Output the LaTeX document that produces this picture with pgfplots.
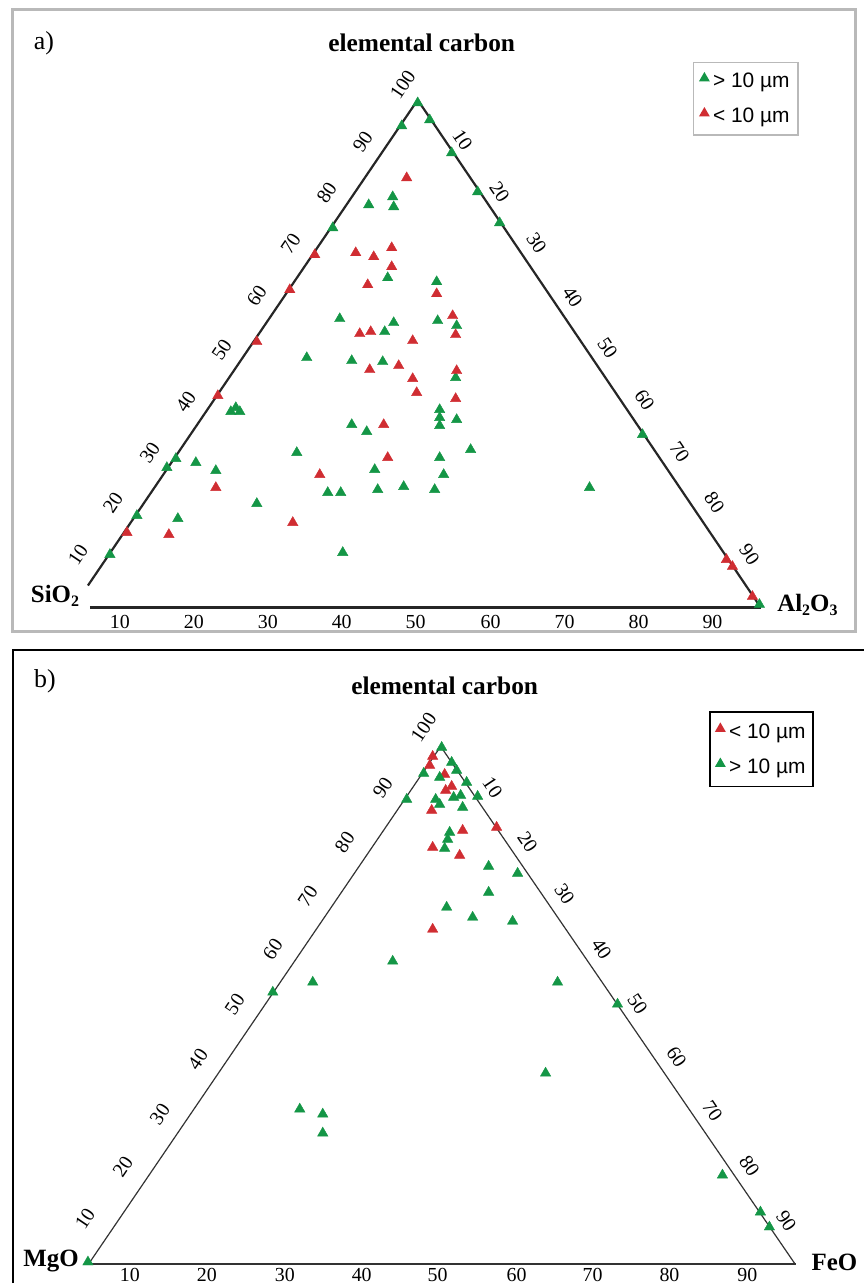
\documentclass[border=0pt]{standalone}
\usepackage{pgfplots}
\pgfplotsset{compat=1.18}
\usepackage{fontspec}
\setmainfont{Liberation Serif}
\newfontfamily\arial{Liberation Sans}
\definecolor{mkgreen}{RGB}{20,150,70}
\definecolor{mkred}{RGB}{208,45,50}
\definecolor{framegray}{RGB}{185,185,185}
\newcommand\sub[1]{\raisebox{-0.35ex}{\fontsize{16}{16}\selectfont #1}}
\pgfplotsset{
  panel/.style={scale only axis, width=865bp, xmin=0, xmax=865, y dir=reverse, hide axis, clip=false,
    legend cell align=left,
    legend image code/.code={\draw[##1, mark size=4.8bp] plot coordinates {(0bp,3bp)};},
  },
  gm/.style={only marks, mark=triangle*, mark size=6bp, color=mkgreen},
  rm/.style={only marks, mark=triangle*, mark size=6bp, color=mkred},
}
\tikzset{
  tk/.style={font=\fontsize{20}{20}\selectfont, inner sep=0pt},
  ttl/.style={font=\fontsize{25.5}{26}\selectfont\bfseries, inner sep=0pt},
  lab/.style={font=\fontsize{25}{26}\selectfont\bfseries, inner sep=0pt},
}
\begin{document}
\begin{tikzpicture}
% ---------------- panel a ----------------
\begin{axis}[panel, height=640bp, ymin=0, ymax=640, at={(0,644bp)}, anchor=south west,
  legend style={at={(0.8012,0.9031)}, anchor=north west, draw=framegray, line width=1.5bp,
    font=\arial\fontsize{21}{23}\selectfont, inner xsep=7bp, inner ysep=9bp, row sep=16bp,
    column sep=3bp, nodes={inner sep=1.5bp}}]
\path (axis cs:0,0) rectangle (axis cs:865,640);
\draw[framegray, line width=3bp] (axis cs:13,10) rectangle (axis cs:856,632);
\addplot[black!85, line width=2.2bp, forget plot] coordinates {(88,586) (418,100) (760,606)};
\addplot[black!85, line width=3bp, forget plot] coordinates {(90,608) (762,608)};
\addplot[gm] coordinates {
(418,103) (402,126) (430,120) (452,153) (478,192) (500,223) (369,205) (393,197) (394,207)
(333,228) (388,278) (437,282) (340,319) (394,323) (438,321) (457,326) (385,332) (307,358)
(352,361) (383,362) (456,378) (440,410) (440,418) (440,426) (457,420) (352,425) (367,432)
(297,453) (471,450) (440,458) (375,470) (444,475) (328,493) (341,493) (378,490) (404,487)
(435,490) (590,488) (643,435) (760,605) (231,412) (236,408) (240,412) (176,459) (167,468)
(196,463) (216,471) (257,504) (137,516) (178,519) (110,555) (343,553)
};
\addlegendentry{> 10 µm}
\addplot[rm] coordinates {
(407,178) (315,255) (356,253) (374,257) (392,248) (392,267) (368,285) (290,290) (437,294)
(453,316) (456,335) (360,334) (371,332) (413,341) (370,370) (399,366) (457,371) (413,379)
(417,393) (456,399) (384,425) (388,458) (320,475) (257,342) (218,396) (216,488) (293,523)
(127,533) (169,535) (727,560) (733,567) (753,597)
};
\addlegendentry{< 10 µm}
% labels
\node[font=\fontsize{26}{26}\selectfont, inner sep=0pt] at (axis cs:44,43) {a)};
\node[ttl] at (axis cs:422,43) {elemental carbon};
\node[lab] at (axis cs:55,596) {SiO\sub{2}};
\node[lab] at (axis cs:808,605) {Al\sub{2}O\sub{3}};
% left ticks
\node[tk, rotate=56] at (axis cs:78,555) {10};
\node[tk, rotate=56] at (axis cs:113,503) {20};
\node[tk, rotate=56] at (axis cs:150,453) {30};
\node[tk, rotate=56] at (axis cs:186,402) {40};
\node[tk, rotate=56] at (axis cs:222,350) {50};
\node[tk, rotate=56] at (axis cs:257,296) {60};
\node[tk, rotate=56] at (axis cs:291,244) {70};
\node[tk, rotate=56] at (axis cs:327,193) {80};
\node[tk, rotate=56] at (axis cs:363,142) {90};
\node[tk, rotate=56] at (axis cs:403,85) {100};
% right ticks
\node[tk, rotate=-56] at (axis cs:463,140) {10};
\node[tk, rotate=-56] at (axis cs:500,192) {20};
\node[tk, rotate=-56] at (axis cs:537,243) {30};
\node[tk, rotate=-56] at (axis cs:573,297) {40};
\node[tk, rotate=-56] at (axis cs:608,348) {50};
\node[tk, rotate=-56] at (axis cs:645,400) {60};
\node[tk, rotate=-56] at (axis cs:680,452) {70};
\node[tk, rotate=-56] at (axis cs:715,503) {80};
\node[tk, rotate=-56] at (axis cs:750,555) {90};
% bottom ticks
\node[tk] at (axis cs:120,622) {10};
\node[tk] at (axis cs:194,622) {20};
\node[tk] at (axis cs:268,622) {30};
\node[tk] at (axis cs:342,622) {40};
\node[tk] at (axis cs:416,622) {50};
\node[tk] at (axis cs:491,622) {60};
\node[tk] at (axis cs:565,622) {70};
\node[tk] at (axis cs:639,622) {80};
\node[tk] at (axis cs:713,622) {90};
\end{axis}
% ---------------- panel b ----------------
\begin{axis}[panel, height=644bp, ymin=640, ymax=1284, at={(0,0)}, anchor=south west,
  legend style={at={(0.8208,0.8882)}, anchor=north west, draw=black, line width=1.5bp,
    font=\arial\fontsize{21}{23}\selectfont, inner xsep=6bp, inner ysep=10bp, row sep=16bp,
    column sep=3bp, nodes={inner sep=1.5bp}}]
\path (axis cs:0,640) rectangle (axis cs:865,1284);
\draw[black, line width=2bp] (axis cs:13,1284) -- (axis cs:13,651) -- (axis cs:865,651);
\addplot[black!80, line width=1.2bp, forget plot] coordinates {(90,1263) (441,747) (795,1264)};
\addplot[black!80, line width=1.6bp, forget plot] coordinates {(90,1265) (797,1265)};
\addplot[rm] coordinates {
(433,757) (430,766) (445,775) (452,787) (446,791) (432,811) (463,831) (497,828) (433,848)
(460,856) (433,930)
};
\addlegendentry{< 10 µm}
\addplot[gm] coordinates {
(442,748) (452,763) (457,771) (424,774) (440,778) (467,783) (478,797) (436,800) (454,798)
(461,796) (440,805) (463,808) (407,800) (450,833) (448,840) (445,849) (489,867) (518,874)
(489,893) (447,908) (473,918) (513,922) (393,962) (313,983) (273,993) (558,983) (618,1005)
(546,1074) (300,1110) (323,1115) (323,1134) (723,1176) (761,1213) (770,1228) (88,1263)
};
\addlegendentry{> 10 µm}
\node[font=\fontsize{26}{26}\selectfont, inner sep=0pt] at (axis cs:45,682) {b)};
\node[ttl] at (axis cs:445,686) {elemental carbon};
\node[lab] at (axis cs:51,1262) {MgO};
\node[lab] at (axis cs:835,1263) {FeO};
% left ticks
\node[tk, rotate=56] at (axis cs:85,1220) {10};
\node[tk, rotate=56] at (axis cs:123,1168) {20};
\node[tk, rotate=56] at (axis cs:160,1115) {30};
\node[tk, rotate=56] at (axis cs:198,1060) {40};
\node[tk, rotate=56] at (axis cs:235,1005) {50};
\node[tk, rotate=56] at (axis cs:273,950) {60};
\node[tk, rotate=56] at (axis cs:308,897) {70};
\node[tk, rotate=56] at (axis cs:345,843) {80};
\node[tk, rotate=56] at (axis cs:383,788) {90};
\node[tk, rotate=56] at (axis cs:424,728) {100};
% right ticks
\node[tk, rotate=-56] at (axis cs:493,788) {10};
\node[tk, rotate=-56] at (axis cs:528,843) {20};
\node[tk, rotate=-56] at (axis cs:565,895) {30};
\node[tk, rotate=-56] at (axis cs:602,950) {40};
\node[tk, rotate=-56] at (axis cs:638,1005) {50};
\node[tk, rotate=-56] at (axis cs:677,1058) {60};
\node[tk, rotate=-56] at (axis cs:713,1112) {70};
\node[tk, rotate=-56] at (axis cs:750,1167) {80};
\node[tk, rotate=-56] at (axis cs:787,1222) {90};
% bottom ticks
\node[tk] at (axis cs:130,1276) {10};
\node[tk] at (axis cs:207,1276) {20};
\node[tk] at (axis cs:285,1276) {30};
\node[tk] at (axis cs:362,1276) {40};
\node[tk] at (axis cs:438,1276) {50};
\node[tk] at (axis cs:517,1276) {60};
\node[tk] at (axis cs:593,1276) {70};
\node[tk] at (axis cs:670,1276) {80};
\node[tk] at (axis cs:748,1276) {90};
\end{axis}
\end{tikzpicture}
\end{document}
